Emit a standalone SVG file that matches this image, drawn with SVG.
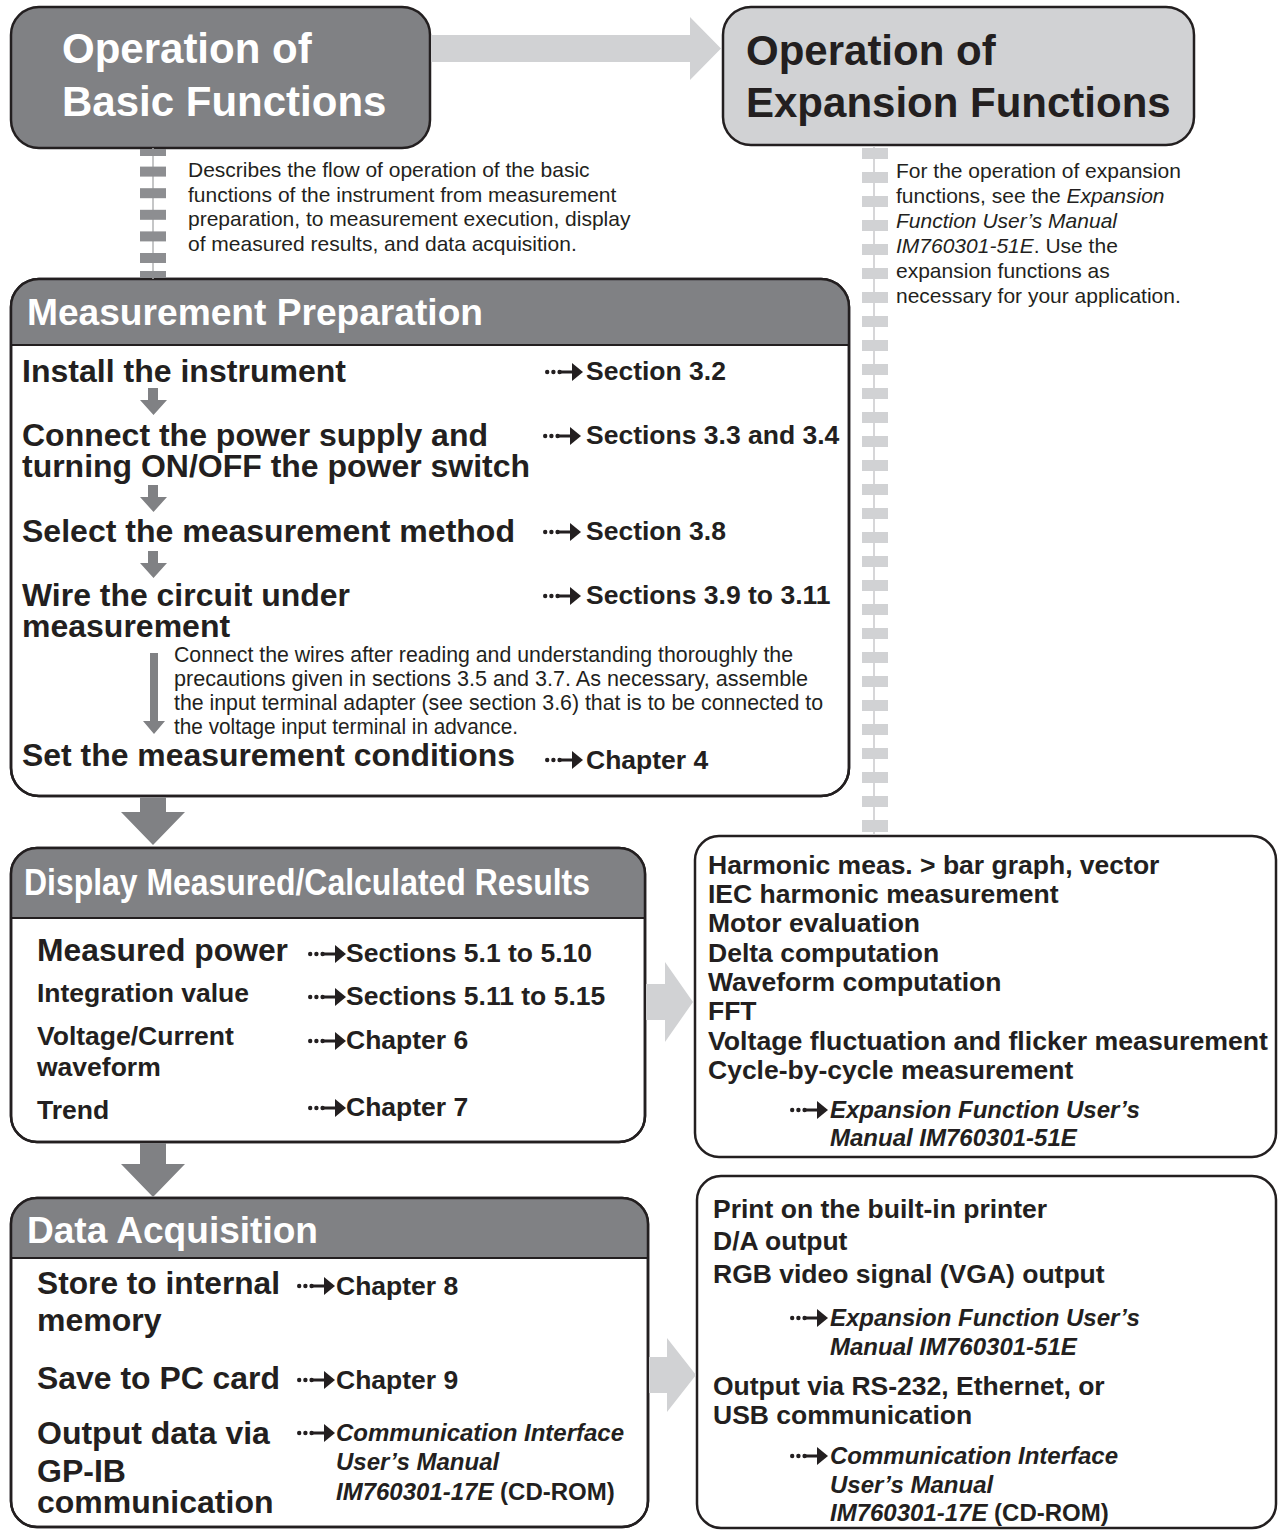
<svg xmlns="http://www.w3.org/2000/svg" width="1279" height="1530" viewBox="0 0 1279 1530">
<style>
text{font-family:"Liberation Sans",Arial,Helvetica,sans-serif;fill:#231f20}
.b{font-weight:700}
.bi{font-weight:700;font-style:italic}
.i{font-style:italic}
.w{font-weight:700;fill:#ffffff}
.t42{font-size:42px}
.h37{font-size:37px}
.s32{font-size:32px}
.s26{font-size:26.5px}
.s24{font-size:24px}
.s21{font-size:21px}
.s22{font-size:22px}
.box{stroke:#231f20;stroke-width:2.5}
.dk{fill:#808184}
.lt{fill:#d1d2d4}
.ar{fill:#808184}
</style>
<defs>
<g id="darr" fill="#231f20">
<circle cx="2.2" cy="0" r="2.2"/><circle cx="8.4" cy="0" r="2.2"/><circle cx="14.6" cy="0" r="2.2"/>
<rect x="15" y="-1.5" width="13" height="3"/>
<path d="M27,-9 L38,0 L27,9 Z"/>
</g>
</defs>

<!-- top left -->
<g id="basic">
<rect class="box dk" x="11" y="7" width="419" height="141" rx="28"/>
<text class="w t42" x="62" y="63">Operation of</text>
<text class="w t42" x="62" y="116">Basic Functions</text>
</g>

<!-- top right -->
<g id="expansion">
<rect class="box lt" x="723" y="7" width="471" height="138" rx="28"/>
<text class="b t42" x="746" y="65">Operation of</text>
<text class="b t42" x="746" y="117">Expansion Functions</text>
</g>

<g id="basic-desc">
<text class="s21" x="188" y="177">Describes the flow of operation of the basic</text>
<text class="s21" x="188" y="202">functions of the instrument from measurement</text>
<text class="s21" x="188" y="226">preparation, to measurement execution, display</text>
<text class="s21" x="188" y="251">of measured results, and data acquisition.</text>
</g>

<g id="expansion-desc">
<text class="s21" x="896" y="178">For the operation of expansion</text>
<text class="s21" x="896" y="203">functions, see the <tspan class="i">Expansion</tspan></text>
<text class="s21 i" x="896" y="228">Function User’s Manual</text>
<text class="s21" x="896" y="253"><tspan class="i">IM760301-51E</tspan>. Use the</text>
<text class="s21" x="896" y="278">expansion functions as</text>
<text class="s21" x="896" y="303">necessary for your application.</text>
</g>

<!-- Measurement Preparation -->
<g id="meas-prep">
<rect class="box" fill="#ffffff" x="11" y="279" width="838" height="517" rx="28"/>
<path class="dk" d="M11,345 V307 A28,28 0 0 1 39,279 H821 A28,28 0 0 1 849,307 V345 Z"/>
<line x1="11" y1="345" x2="849" y2="345" stroke="#231f20" stroke-width="2"/>
<rect class="box" fill="none" x="11" y="279" width="838" height="517" rx="28"/>
<text class="w h37" x="27" y="325" textLength="456" lengthAdjust="spacingAndGlyphs">Measurement Preparation</text>
<text class="b s32" x="22" y="382" textLength="324" lengthAdjust="spacingAndGlyphs">Install the instrument</text>
<text class="b s32" x="22" y="446" textLength="466" lengthAdjust="spacingAndGlyphs">Connect the power supply and</text>
<text class="b s32" x="22" y="477" textLength="508" lengthAdjust="spacingAndGlyphs">turning ON/OFF the power switch</text>
<text class="b s32" x="22" y="542" textLength="493" lengthAdjust="spacingAndGlyphs">Select the measurement method</text>
<text class="b s32" x="22" y="606" textLength="328" lengthAdjust="spacingAndGlyphs">Wire the circuit under</text>
<text class="b s32" x="22" y="637">measurement</text>
<text class="b s32" x="22" y="766" textLength="493" lengthAdjust="spacingAndGlyphs">Set the measurement conditions</text>
<text class="s22" x="174" y="662" textLength="619" lengthAdjust="spacingAndGlyphs">Connect the wires after reading and understanding thoroughly the</text>
<text class="s22" x="174" y="686" textLength="634" lengthAdjust="spacingAndGlyphs">precautions given in sections 3.5 and 3.7.  As necessary, assemble</text>
<text class="s22" x="174" y="710" textLength="649" lengthAdjust="spacingAndGlyphs">the input terminal adapter (see section 3.6) that is to be connected to</text>
<text class="s22" x="174" y="734" textLength="344" lengthAdjust="spacingAndGlyphs">the voltage input terminal in advance.</text>
<use href="#darr" x="545" y="372"/>
<text class="b s26" x="586" y="380">Section 3.2</text>
<use href="#darr" x="543" y="436"/>
<text class="b s26" x="586" y="444">Sections 3.3 and 3.4</text>
<use href="#darr" x="543" y="532"/>
<text class="b s26" x="586" y="540">Section 3.8</text>
<use href="#darr" x="543" y="596"/>
<text class="b s26" x="586" y="604">Sections 3.9 to 3.11</text>
<use href="#darr" x="545" y="760"/>
<text class="b s26" x="586" y="769">Chapter 4</text>
</g>

<!-- Display -->
<g id="display">
<rect class="box" fill="#ffffff" x="11" y="848" width="634" height="294" rx="26"/>
<path class="dk" d="M11,918 V874 A26,26 0 0 1 37,848 H619 A26,26 0 0 1 645,874 V918 Z"/>
<line x1="11" y1="918" x2="645" y2="918" stroke="#231f20" stroke-width="2"/>
<rect class="box" fill="none" x="11" y="848" width="634" height="294" rx="26"/>
<text class="w h37" x="24" y="895" textLength="566" lengthAdjust="spacingAndGlyphs">Display Measured/Calculated Results</text>
<text class="b s32" x="37" y="961" textLength="251" lengthAdjust="spacingAndGlyphs">Measured power</text>
<text class="b s26" x="37" y="1002">Integration value</text>
<text class="b s26" x="37" y="1045">Voltage/Current</text>
<text class="b s26" x="37" y="1076">waveform</text>
<text class="b s26" x="37" y="1119">Trend</text>
<use href="#darr" x="308" y="954"/>
<text class="b s26" x="346" y="962">Sections 5.1 to 5.10</text>
<use href="#darr" x="308" y="997"/>
<text class="b s26" x="346" y="1005">Sections 5.11 to 5.15</text>
<use href="#darr" x="308" y="1041"/>
<text class="b s26" x="346" y="1049">Chapter 6</text>
<use href="#darr" x="308" y="1108"/>
<text class="b s26" x="346" y="1116">Chapter 7</text>
</g>

<!-- Data Acquisition -->
<g id="data-acq">
<rect class="box" fill="#ffffff" x="11" y="1198" width="637" height="329" rx="26"/>
<path class="dk" d="M11,1258 V1224 A26,26 0 0 1 37,1198 H622 A26,26 0 0 1 648,1224 V1258 Z"/>
<line x1="11" y1="1258" x2="648" y2="1258" stroke="#231f20" stroke-width="2"/>
<rect class="box" fill="none" x="11" y="1198" width="637" height="329" rx="26"/>
<text class="w h37" x="27" y="1243" textLength="291" lengthAdjust="spacingAndGlyphs">Data Acquisition</text>
<text class="b s32" x="37" y="1294" textLength="243" lengthAdjust="spacingAndGlyphs">Store to internal</text>
<text class="b s32" x="37" y="1331">memory</text>
<text class="b s32" x="37" y="1389" textLength="243" lengthAdjust="spacingAndGlyphs">Save to PC card</text>
<text class="b s32" x="37" y="1444">Output data via</text>
<text class="b s32" x="37" y="1482">GP-IB</text>
<text class="b s32" x="37" y="1513">communication</text>
<use href="#darr" x="297" y="1286"/>
<text class="b s26" x="336" y="1295">Chapter 8</text>
<use href="#darr" x="297" y="1380"/>
<text class="b s26" x="336" y="1389">Chapter 9</text>
<use href="#darr" x="297" y="1433"/>
<text class="bi s24" x="336" y="1441">Communication Interface</text>
<text class="bi s24" x="336" y="1470">User’s Manual</text>
<text class="bi s24" x="336" y="1500">IM760301-17E <tspan font-style="normal">(CD-ROM)</tspan></text>
</g>

<!-- Expansion display functions -->
<g id="exp-display">
<rect class="box" fill="#ffffff" x="695" y="836" width="581" height="321" rx="24"/>
<text class="b s26" x="708" y="874">Harmonic meas. &gt; bar graph, vector</text>
<text class="b s26" x="708" y="903">IEC harmonic measurement</text>
<text class="b s26" x="708" y="932">Motor evaluation</text>
<text class="b s26" x="708" y="962">Delta computation</text>
<text class="b s26" x="708" y="991">Waveform computation</text>
<text class="b s26" x="708" y="1020">FFT</text>
<text class="b s26" x="708" y="1050" textLength="560" lengthAdjust="spacingAndGlyphs">Voltage fluctuation and flicker measurement</text>
<text class="b s26" x="708" y="1079">Cycle-by-cycle measurement</text>
<use href="#darr" x="790" y="1110"/>
<text class="bi s24" x="830" y="1118">Expansion Function User’s</text>
<text class="bi s24" x="830" y="1146">Manual IM760301-51E</text>
</g>

<!-- Expansion output functions -->
<g id="exp-output">
<rect class="box" fill="#ffffff" x="697" y="1176" width="579" height="352" rx="24"/>
<text class="b s26" x="713" y="1218">Print on the built-in printer</text>
<text class="b s26" x="713" y="1250">D/A output</text>
<text class="b s26" x="713" y="1283">RGB video signal (VGA) output</text>
<use href="#darr" x="790" y="1318"/>
<text class="bi s24" x="830" y="1326">Expansion Function User’s</text>
<text class="bi s24" x="830" y="1355">Manual IM760301-51E</text>
<text class="b s26" x="713" y="1395">Output via RS-232, Ethernet, or</text>
<text class="b s26" x="713" y="1424">USB communication</text>
<use href="#darr" x="790" y="1456"/>
<text class="bi s24" x="830" y="1464">Communication Interface</text>
<text class="bi s24" x="830" y="1493">User’s Manual</text>
<text class="bi s24" x="830" y="1521">IM760301-17E <tspan font-style="normal">(CD-ROM)</tspan></text>
</g>

<!-- connectors -->
<g id="connectors">
<!-- dashed bar left -->
<line x1="153" y1="148" x2="153" y2="279" stroke="#b2b3b5" stroke-width="1.5"/>
<g fill="#8d8e91">
<rect x="140" y="149" width="26" height="7"/>
<rect x="140" y="166.6" width="26" height="10"/>
<rect x="140" y="188.2" width="26" height="10"/>
<rect x="140" y="209.8" width="26" height="10"/>
<rect x="140" y="231.4" width="26" height="10"/>
<rect x="140" y="253" width="26" height="10"/>
<rect x="140" y="271" width="26" height="7"/>
</g>
<!-- dashed bar right -->
<line x1="874" y1="146" x2="874" y2="835" stroke="#c8c9cb" stroke-width="1.5"/>
<g fill="#d1d2d4">
<rect x="862" y="148" width="26" height="11"/><rect x="862" y="172" width="26" height="11"/><rect x="862" y="196" width="26" height="11"/><rect x="862" y="220" width="26" height="11"/><rect x="862" y="244" width="26" height="11"/><rect x="862" y="268" width="26" height="11"/><rect x="862" y="292" width="26" height="11"/><rect x="862" y="316" width="26" height="11"/><rect x="862" y="340" width="26" height="11"/><rect x="862" y="364" width="26" height="11"/><rect x="862" y="388" width="26" height="11"/><rect x="862" y="412" width="26" height="11"/><rect x="862" y="436" width="26" height="11"/><rect x="862" y="460" width="26" height="11"/><rect x="862" y="484" width="26" height="11"/><rect x="862" y="508" width="26" height="11"/><rect x="862" y="532" width="26" height="11"/><rect x="862" y="556" width="26" height="11"/><rect x="862" y="580" width="26" height="11"/><rect x="862" y="604" width="26" height="11"/><rect x="862" y="628" width="26" height="11"/><rect x="862" y="652" width="26" height="11"/><rect x="862" y="676" width="26" height="11"/><rect x="862" y="700" width="26" height="11"/><rect x="862" y="724" width="26" height="11"/><rect x="862" y="748" width="26" height="11"/><rect x="862" y="772" width="26" height="11"/><rect x="862" y="796" width="26" height="11"/><rect x="862" y="820" width="26" height="12"/>
</g>
<!-- light arrows -->
<path class="lt" d="M431,35 H690 V17 L721,48.5 L690,80 V62 H431 Z"/>
<path class="lt" d="M646,984 H665 V962 L693,1002 L665,1042 V1020 H646 Z"/>
<path class="lt" d="M649,1357 H667 V1338 L696,1375 L667,1412 V1393 H649 Z"/>
<!-- big dark arrows -->
<path class="ar" d="M140,797.5 H166 V812 H185 L153,845 L121,812 H140 Z"/>
<path class="ar" d="M140,1143 H166 V1164 H185 L153,1197 L121,1164 H140 Z"/>
<!-- small arrows in measurement preparation -->
<path class="ar" d="M148,388 H158 V400 H167 L153.5,415 L140,400 H148 Z"/>
<path class="ar" d="M148,485 H158 V497 H167 L153.5,512 L140,497 H148 Z"/>
<path class="ar" d="M148,551 H158 V563 H167 L153.5,578 L140,563 H148 Z"/>
<path class="ar" d="M150,653 H158 V721 H165 L154,734 L143,721 H150 Z"/>
</g>
</svg>
